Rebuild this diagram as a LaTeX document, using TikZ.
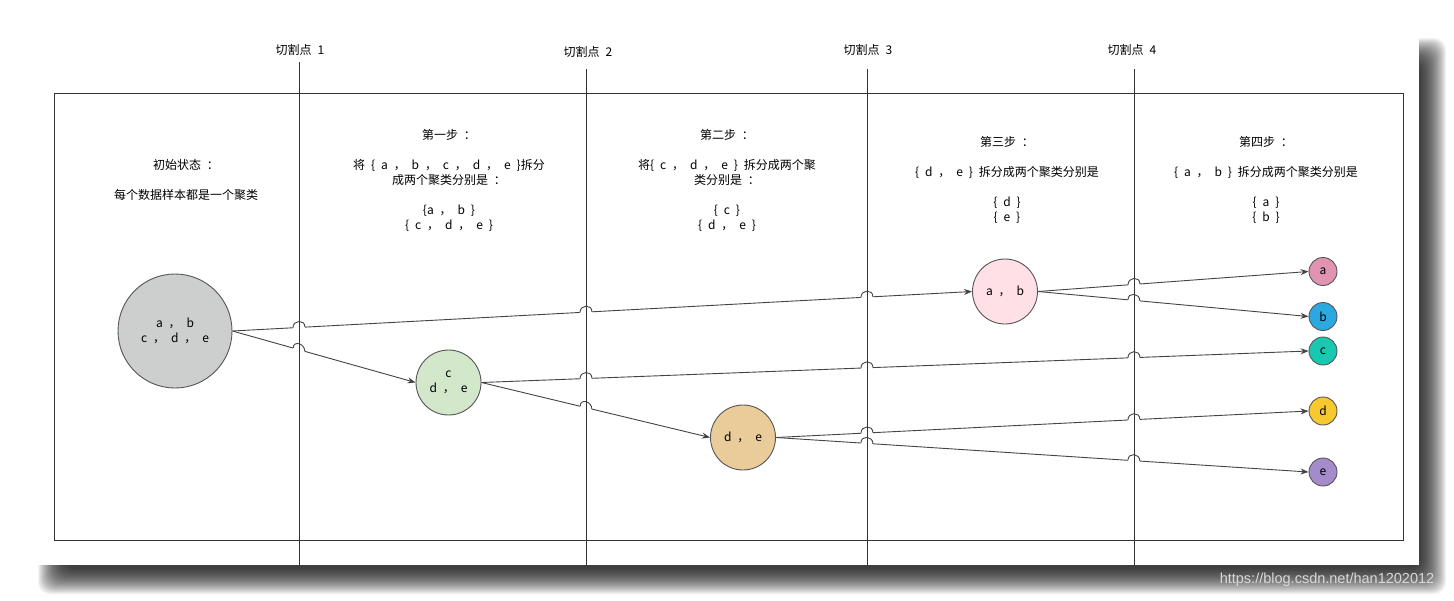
\documentclass[tikz,border=0pt]{standalone}
\usepackage{fontspec}
\newfontfamily\cjk[WordSpace=2.2]{Noto Sans CJK SC}
\newfontfamily\wmfont{Liberation Sans}
\usetikzlibrary{calc}
\usetikzlibrary{arrows.meta}
\pgfdeclarelayer{background}
\pgfdeclarelayer{edgelayer}
\pgfdeclarelayer{eraselayer}
\pgfdeclarelayer{hoplayer}
\pgfsetlayers{background,edgelayer,eraselayer,main,hoplayer}
\definecolor{ink}{HTML}{333333}
\definecolor{edge}{HTML}{444444}
\definecolor{rim}{HTML}{555555}
\definecolor{greyfill}{HTML}{CDCFCE}
\definecolor{greenfill}{HTML}{D3E8CB}
\definecolor{orangefill}{HTML}{EACC9A}
\definecolor{pinkfill}{HTML}{FFE0E6}
\definecolor{afill}{HTML}{E194B2}
\definecolor{bfill}{HTML}{2CA8E0}
\definecolor{cfill}{HTML}{19C8B0}
\definecolor{dfill}{HTML}{F8C92F}
\definecolor{efill}{HTML}{A48CCB}
\tikzset{cluster/.style={circle, draw=rim, line width=0.9pt, inner sep=0pt, align=center,
  font=\cjk\fontsize{12}{15}\selectfont}}
\tikzset{bigclust/.style={cluster, minimum size=114pt}}
\tikzset{midclust/.style={cluster, minimum size=65pt}}
\tikzset{leaf/.style={cluster, minimum size=28pt}}
\tikzset{caption/.style={inner sep=0pt, align=center, font=\cjk\fontsize{12}{15}\selectfont}}
\tikzset{link/.style={draw=edge, line width=0.9pt, -{Stealth[length=8pt,width=6pt]}}}
\tikzset{hopline/.style={draw=edge, line width=0.9pt}}
\tikzset{cut/.style={draw=ink, line width=1pt}}
% line jump where a link passes a cut line
\newcommand{\hop}[3]{%
  \coordinate (h) at (intersection of #1--#2 and #3t--#3b);
  \begin{pgfonlayer}{eraselayer}
    \draw[white, line width=3pt] ($(h)!6pt!(#1)$) -- ($(h)!6pt!(#2)$);
  \end{pgfonlayer}
  \begin{pgfonlayer}{hoplayer}
    \draw[hopline] ($(h)!6pt!(#1)$) .. controls +(0,-8) and +(0,-8) .. ($(h)!6pt!(#2)$);
  \end{pgfonlayer}}
\begin{document}
\begin{tikzpicture}[x=1pt, y=-1pt]
    \useasboundingbox (0,0) rectangle (1454,600);
    \begin{pgfonlayer}{background}
        \foreach \d in {-12,-11,...,14}
            \fill[black, opacity=0.05, rounded corners=12pt] (52-\d,52-\d) rectangle (1432+\d,580+\d);
        \fill[white] (35,35) rectangle (1419,565);
    \end{pgfonlayer}
    \node[font=\wmfont\fontsize{14.5}{16}\selectfont, text=white!85!black] (wm) at (1327,580) {https://blog.csdn.net/han1202012};

    % frame and cut lines
    \draw[cut] (54,93) rectangle (1403,540);
    \foreach \n/\x/\t/\lx/\ly in {1/299/62/300/50, 2/586/69/588/52, 3/867/69/868/50, 4/1134/69/1132/50} {
        \coordinate (cut\n t) at (\x,\t);
        \coordinate (cut\n b) at (\x,565);
        \draw[cut] (cut\n t) -- (cut\n b);
        \node[caption] (lab\n) at (\lx,\ly) {切割点 \n};
    }

    % step texts
    \node[caption] (t0) at (186,180) {初始状态 ：\\[15pt]每个数据样本都是一个聚类};
    \node[caption] (t1) at (449,180) {第一步 ：\\[15pt]将 \{ a ， b ， c ， d ， e \}拆分\\成两个聚类分别是 ：\\[15pt]\{a ， b \}\\\{ c ， d ， e \}};
    \node[caption] (t2) at (727,180) {第二步 ：\\[15pt]将\{ c ， d ， e \} 拆分成两个聚\\类分别是 ：\\[15pt]\{ c \}\\\{ d ， e \}};
    \node[caption] (t3) at (1007,179.5) {第三步 ：\\[15pt]\{ d ， e \} 拆分成两个聚类分别是\\[15pt]\{ d \}\\\{ e \}};
    \node[caption] (t4) at (1266,179.5) {第四步 ：\\[15pt]\{ a ， b \} 拆分成两个聚类分别是\\[15pt]\{ a \}\\\{ b \}};

    % clusters
    \node[bigclust, fill=greyfill] (abcde) at (175,331) {a ， b\\c ， d ， e};
    \node[midclust, fill=greenfill] (cde) at (448.5,382.5) {c\\d ， e};
    \node[midclust, fill=orangefill] (de) at (743,437.5) {d ， e};
    \node[midclust, fill=pinkfill] (ab) at (1005,291.5) {a ， b};
    \node[leaf, fill=afill] (a) at (1323,271.5) {a};
    \node[leaf, fill=bfill] (b) at (1323,316.5) {b};
    \node[leaf, fill=cfill] (c) at (1323,351) {c};
    \node[leaf, fill=dfill] (d) at (1323,411) {d};
    \node[leaf, fill=efill] (e) at (1323,472) {e};

    \begin{pgfonlayer}{edgelayer}
        \draw[link] (abcde.east) -- (ab.west);
        \draw[link] (abcde.east) -- (cde.west);
        \draw[link] (cde.east) -- (c.west);
        \draw[link] (cde.east) -- (de.west);
        \draw[link] (de.east) -- (d.west);
        \draw[link] (de.east) -- (e.west);
        \draw[link] (ab.east) -- (a.west);
        \draw[link] (ab.east) -- (b.west);
    \end{pgfonlayer}

    % jumps over the cut lines
    \hop{abcde.east}{ab.west}{cut1}
    \hop{abcde.east}{ab.west}{cut2}
    \hop{abcde.east}{ab.west}{cut3}
    \hop{abcde.east}{cde.west}{cut1}
    \hop{cde.east}{c.west}{cut2}
    \hop{cde.east}{c.west}{cut3}
    \hop{cde.east}{c.west}{cut4}
    \hop{cde.east}{de.west}{cut2}
    \hop{de.east}{d.west}{cut3}
    \hop{de.east}{d.west}{cut4}
    \hop{de.east}{e.west}{cut3}
    \hop{de.east}{e.west}{cut4}
    \hop{ab.east}{a.west}{cut4}
    \hop{ab.east}{b.west}{cut4}
\end{tikzpicture}
\end{document}
